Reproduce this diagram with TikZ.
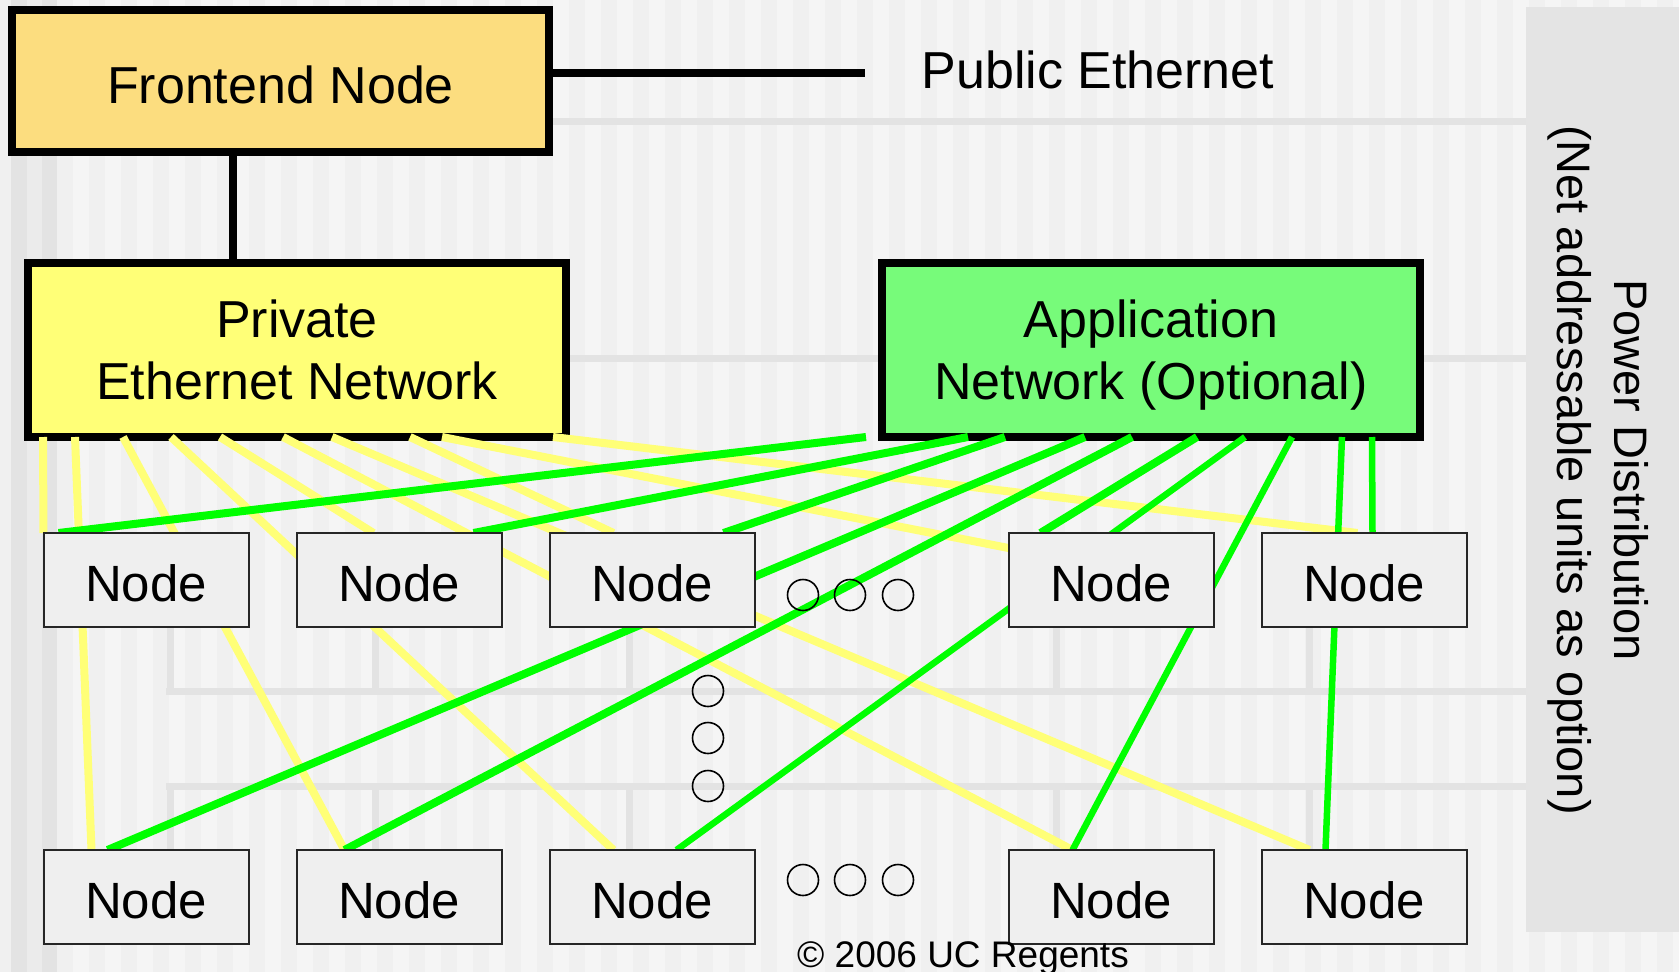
\documentclass[tikz,border=0pt]{standalone}
\usepackage{fontspec}
\setmainfont{Liberation Sans}
\usetikzlibrary{positioning}
\definecolor{fecol}{HTML}{FCDD7F}
\definecolor{ethyel}{HTML}{FFFF77}
\definecolor{appfill}{HTML}{77FB7A}
\definecolor{appgrn}{HTML}{00FF00}
\definecolor{nodegray}{HTML}{EFEFEF}
\definecolor{bgcol}{HTML}{F5F5F5}
\definecolor{stripe}{HTML}{F0F0F0}
\definecolor{rulegray}{HTML}{E3E3E3}
\definecolor{panelgray}{HTML}{E4E4E4}
\pgfdeclarelayer{back}
\pgfdeclarelayer{wires}
\pgfdeclarelayer{front}
\pgfsetlayers{back,main,wires,front}

\begin{document}
\begin{tikzpicture}[x=1pt,y=-1pt,
    bigbox/.style={draw=black,line width=8pt,outer sep=0pt,inner sep=0pt,align=center,
      minimum width=538pt,minimum height=174pt,font=\fontsize{52}{62}\selectfont},
    cnode/.style={draw=black!85,fill=nodegray,line width=2pt,outer sep=0pt,inner sep=0pt,
      minimum width=205pt,minimum height=94pt,text height=43pt,font=\fontsize{51}{61}\selectfont},
    ellip/.style={circle,draw=black,line width=1.6pt,minimum size=31pt,inner sep=0pt},
    ethwire/.style={ethyel,line width=8pt},
    appwire/.style={appgrn,line width=8pt},
    gridline/.style={rulegray,line width=7pt}]
  \useasboundingbox (0,0) rectangle (1679,972);

  % slide backdrop
  \begin{pgfonlayer}{back}
    \fill[bgcol] (0,0) rectangle (1679,972);
    \foreach \x in {57,89,...,1679}
      \fill[stripe] (\x,0) rectangle ++(16,972);
    \fill[black!6] (0,0) rectangle (11,972);
    \fill[black!11] (11,0) rectangle (27,972);
    \fill[black!8] (27,0) rectangle (42,972);
    \fill[black!11] (42,0) rectangle (57,972);
    \fill[panelgray] (1526,7) rectangle (1679,932);
    \draw[gridline] (549,121) -- (1526,121);
    \draw[gridline] (566,358) -- (1526,358);
    \draw[gridline] (166,691) -- (1526,691);
    \draw[gridline] (166,786) -- (1526,786);
    \foreach \x in {170,375,629,1056,1309} {
      \draw[gridline] (\x,628) -- (\x,691);
      \draw[gridline] (\x,786) -- (\x,849);
    }
  \end{pgfonlayer}

  % switches and frontend
  \node[bigbox,fill=fecol,minimum width=537pt,minimum height=142pt,text height=46pt] (fe) at (280.5,81) {Frontend Node};
  \node[bigbox,fill=ethyel] (priv) at (297,350) {Private\\Ethernet Network};
  \node[bigbox,fill=appfill] (app) at (1151,350)
    {Application\\\raisebox{0pt}[\height][0pt]{Network (Optional)}};

  % uplinks
  \coordinate (pubend) at (865,73);
  \draw[line width=8pt] (fe.east |- pubend) -- (pubend);
  \node[anchor=base west,font=\fontsize{52}{62}\selectfont] (pub) at (918,88) {Public Ethernet};
  \draw[line width=8pt] ([xshift=-47.5pt]fe.south) -- ([xshift=-64pt]priv.north);

  % compute nodes, two rows
  \begin{pgfonlayer}{front}
    \foreach \n/\x in {1/146,2/399,3/652,4/1111,5/1364} {
      \node[cnode] (t\n) at (\x,580) {Node};
      \node[cnode] (b\n) at (\x,897) {Node};
    }
    % more nodes ...
    \foreach \x [count=\i] in {803,850,898} {
      \node[ellip] (tr\i) at (\x,595) {};
      \node[ellip] (br\i) at (\x,880) {};
    }
    \foreach \y [count=\i] in {691,738,786}
      \node[ellip] (col\i) at (708,\y) {};
    \node[anchor=base,font=\fontsize{37}{44}\selectfont] (copy) at (963,967) {© 2006 UC Regents};
  \end{pgfonlayer}

  % power distribution
  \node[rotate=-90,align=center,font=\fontsize{47}{57}\selectfont] (pwr) at (1598,470)
    {Power Distribution\\(Net addressable units as option)};

  % cabling: private ethernet (yellow), application network (green)
  \begin{pgfonlayer}{wires}
    \foreach \s/\t/\d in {15/t1/0,47/b1/48,95/b2/48,143/b3/64,192/t2/77,
                          255/b4/64,304/b5/48,382/t3/64,525/t5/96}
      \draw[ethwire] ([xshift=\s pt]priv.south west) -- ([xshift=\d pt]\t.north west);
    \draw[ethwire] ([xshift=414pt]priv.south west) -- ([yshift=-15pt]t4.north west);
    \foreach \s/\t/\d in {-16/t1/15,86/t2/177,123/t3/174,203/b1/64,250/b2/48,315/t4/32}
      \draw[appwire] ([xshift=\s pt]app.south west) -- ([xshift=\d pt]\t.north west);
    \foreach \s/\t/\d in {363/b3/127,410/b4/64,460/b5/64,490/t5/111}
      \draw[appwire,line width=6.5pt] ([xshift=\s pt]app.south west) -- ([xshift=\d pt]\t.north west);
  \end{pgfonlayer}
\end{tikzpicture}
\end{document}
